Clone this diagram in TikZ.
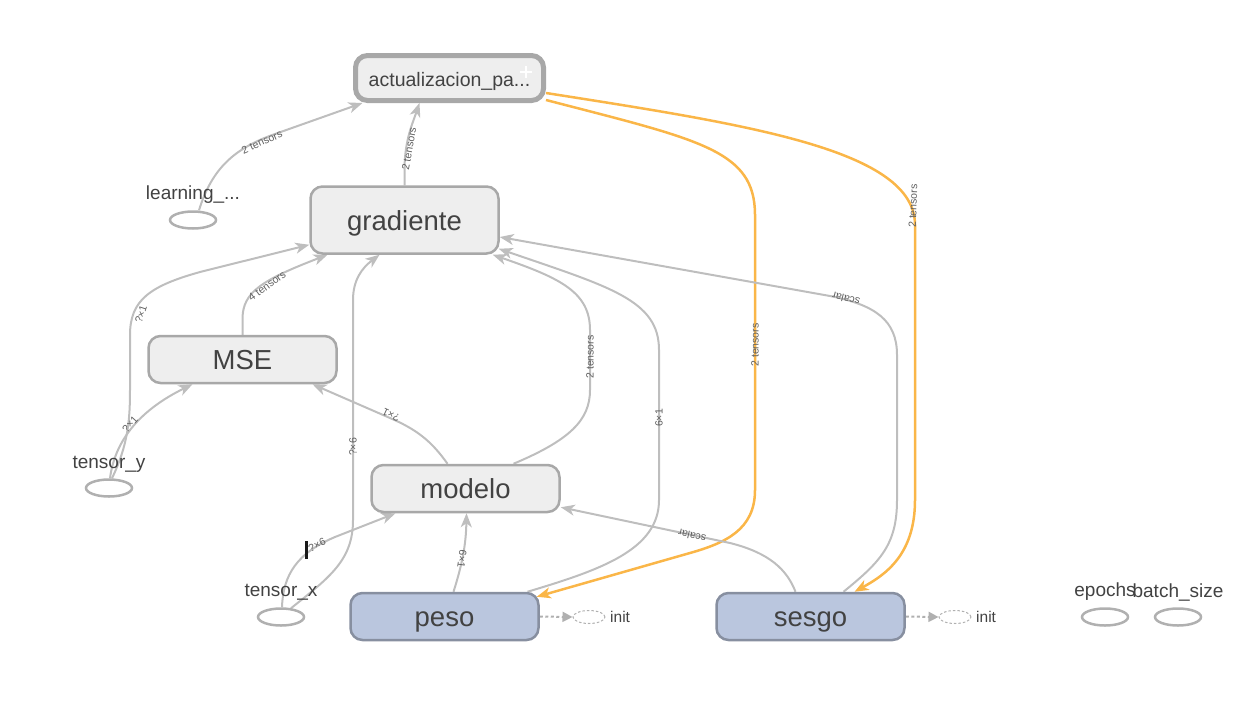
\documentclass[tikz,border=0pt]{standalone}
\usepackage{fontspec}
\setmainfont{Liberation Sans}
\usetikzlibrary{arrows.meta,shapes.geometric,calc}
\pgfdeclarelayer{edges}
\pgfsetlayers{edges,main}
\definecolor{txt}{RGB}{66,66,66}
\definecolor{nodefill}{RGB}{238,238,238}
\definecolor{nodeline}{RGB}{168,168,168}
\definecolor{varfill}{RGB}{186,198,222}
\definecolor{varline}{RGB}{135,143,160}
\definecolor{edgec}{RGB}{190,190,190}
\definecolor{refc}{RGB}{250,182,72}
\definecolor{lblc}{RGB}{95,95,95}
\definecolor{ellc}{RGB}{176,176,176}
\begin{document}
\begin{tikzpicture}[x=1pt,y=-1pt,
  opbox/.style={draw=nodeline, fill=nodefill, line width=2.5pt, rounded corners=12pt,
    minimum width=188pt, minimum height=47pt, inner sep=0pt, text=txt,
    text height=20pt, text depth=0pt,
    font=\fontsize{27.5}{30}\selectfont},
  varbox/.style={opbox, draw=varline, fill=varfill},
  constell/.style={ellipse, draw=ellc, line width=2.5pt, minimum width=46pt, minimum height=17pt, inner sep=0pt},
  initell/.style={ellipse, draw=ellc, dashed, dash pattern=on 2.5pt off 2pt, line width=1pt, minimum width=32pt, minimum height=13pt, inner sep=0pt},
  smalltext/.style={text=txt, inner sep=0pt, font=\fontsize{19}{22}\selectfont},
  inittext/.style={text=txt, inner sep=0pt, font=\fontsize{15.5}{18}\selectfont},
  elabel/.style={text=lblc, inner sep=0pt, font=\fontsize{10.5}{12}\selectfont},
  edge/.style={draw=edgec, line width=2pt, -{Stealth[length=14pt,width=11pt,inset=4pt]}},
  refedge/.style={draw=refc, line width=2.5pt, -{Stealth[length=14pt,width=11pt,inset=4pt]}},
  initedge/.style={draw=ellc, line width=2pt, dash pattern=on 3pt off 2.5pt, -{Triangle[length=10pt,width=10pt]}}
]
\useasboundingbox (0,0) rectangle (1249,723);

% operation nodes
\node[opbox, line width=5pt, minimum width=188pt, minimum height=45pt, text height=17pt, font=\fontsize{19.5}{22}\selectfont] (act) at (449.5,78) {actualizacion\_pa...};
\node[opbox, minimum height=67pt] (grad) at (404.5,220) {gradiente};
\node[opbox] (mse) at (242.5,359.5) {MSE};
\node[opbox] (modelo) at (465.5,488.5) {modelo};
\node[varbox] (peso) at (444.5,616.5) {peso};
\node[varbox] (sesgo) at (810.5,616.5) {sesgo};

% constants / placeholders
\node[constell] (lr) at (193,220) {};
\node[smalltext] (lrlabel) at (193,195) {learning\_...};
\node[constell] (ty) at (109,488) {};
\node[smalltext] (tylabel) at (109,464) {tensor\_y};
\node[constell] (tx) at (281,617) {};
\node[smalltext] (txlabel) at (281,592) {tensor\_x};
\node[constell] (ep) at (1105,617) {};
\node[smalltext] (eplabel) at (1105,592) {epochs};
\node[constell] (bs) at (1178,617) {};
\node[smalltext] (bslabel) at (1178,592) {batch\_size};

% init nodes
\node[initell] (initp) at (589,617) {};
\node[inittext, anchor=west] (initplabel) at (610,617) {init};
\node[initell] (inits) at (955,617) {};
\node[inittext, anchor=west] (initslabel) at (976,617) {init};

% plus sign on the group node
\draw[white, line width=2.5pt] (520,72) -- (532,72) (526,66) -- (526,78);

\begin{pgfonlayer}{edges}
% learning -> act
\draw[edge] ([xshift=6pt]lr.north) .. controls (212,168) and (235,148) .. (275,134) -- ([xshift=-87pt]act.south);
% grad -> act
\draw[edge] (grad.north) -- (404.5,168) .. controls (405,140) and (412,125) .. ([xshift=-30pt]act.south);
% act -> peso (ref)
\draw[refedge] ([yshift=-22pt]act.east) .. controls (700,140) and (755,150) .. (755,215) -- (755,490) .. controls (755,530) and (725,543) .. (690,553) -- ([xshift=-3pt,yshift=-5pt]peso.north east);
% act -> sesgo (ref)
\draw[refedge] ([yshift=-15pt]act.east) .. controls (750,125) and (915,150) .. (915,225) -- (915,500) .. controls (915,555) and (885,575) .. ([xshift=44pt]sesgo.north);
% tensor_y -> grad
\draw[edge] ([xshift=3pt]ty.north) .. controls (128,445) and (130,420) .. (130,390) -- (130,335) .. controls (130,300) and (150,286) .. (200,272) -- ([yshift=10pt]grad.south west);
% tensor_y -> MSE
\draw[edge] ([xshift=1pt]ty.north) .. controls (115,440) and (140,410) .. ([xshift=-50pt]mse.south);
% MSE -> grad
\draw[edge] (mse.north) -- (242.5,318) .. controls (243,292) and (262,280) .. ([xshift=-77pt]grad.south);
% modelo -> MSE
\draw[edge] ([xshift=-18pt]modelo.north) .. controls (432,442) and (418,430) .. (390,418) -- ([xshift=70pt]mse.south);
% tensor_x -> grad
\draw[edge] ([xshift=10pt,yshift=-1pt]tx.north) .. controls (330,577) and (353,560) .. (353,520) -- (353,300) .. controls (353,280) and (362,268) .. ([xshift=-25pt]grad.south);
% tensor_x -> modelo
\draw[edge] ([xshift=1pt]tx.north) .. controls (283,575) and (297,553) .. (335,537) -- ([xshift=-70pt]modelo.south);
% peso -> modelo
\draw[edge] ([xshift=9pt]peso.north) .. controls (462,565) and (466,545) .. ([xshift=1pt]modelo.south);
% peso -> grad
\draw[edge] ([xshift=83pt]peso.north) .. controls (600,570) and (659,550) .. (659,500) -- (659,350) .. controls (659,300) and (610,287) .. ([xshift=-1pt,yshift=6pt]grad.south east);
% modelo -> grad
\draw[edge] ([xshift=48pt]modelo.north) .. controls (570,440) and (590,420) .. (590,390) -- (590,330) .. controls (590,292) and (560,278) .. ([xshift=-7pt]grad.south east);
% sesgo -> grad
\draw[edge] ([xshift=33pt]sesgo.north) .. controls (880,562) and (897,545) .. (897,500) -- (897,355) .. controls (897,320) and (875,305) .. (830,296) -- ([yshift=-17pt]grad.east);
% sesgo -> modelo
\draw[edge] ([xshift=-15pt]sesgo.north) .. controls (787,570) and (770,553) .. (730,543) -- ([yshift=6pt]modelo.south east);
% init edges
\draw[initedge] (peso.east) -- (initp.west);
\draw[initedge] (sesgo.east) -- (inits.west);
\end{pgfonlayer}

% edge labels
\node[elabel, rotate=24] (l1) at (262,142) {2 tensors};
\node[elabel, rotate=80] (l2) at (409,149) {2 tensors};
\node[elabel, rotate=90] (l3) at (755,345) {2 tensors};
\node[elabel, rotate=88] (l4) at (913,206) {2 tensors};
\node[elabel, rotate=72] (l5) at (141,314) {?×1};
\node[elabel, rotate=48] (l6) at (130,424) {?×1};
\node[elabel, rotate=36] (l7) at (267,286) {4 tensors};
\node[elabel, rotate=155] (l8) at (391,415) {?×1};
\node[elabel, rotate=90] (l9) at (353,447) {?×6};
\node[elabel, rotate=26] (l10) at (317,545) {?×6};
\node[elabel, rotate=-98] (l11) at (462,559) {6×1};
\node[elabel, rotate=90] (l12) at (659,418) {6×1};
\node[elabel, rotate=90] (l13) at (590,357) {2 tensors};
\node[elabel, rotate=166] (l14) at (846,299) {scalar};
\node[elabel, rotate=167] (l15) at (692,536) {scalar};

% text cursor visible in the screenshot
\draw[black!90, line width=3pt] (306,541) -- (306,559);
\end{tikzpicture}
\end{document}
